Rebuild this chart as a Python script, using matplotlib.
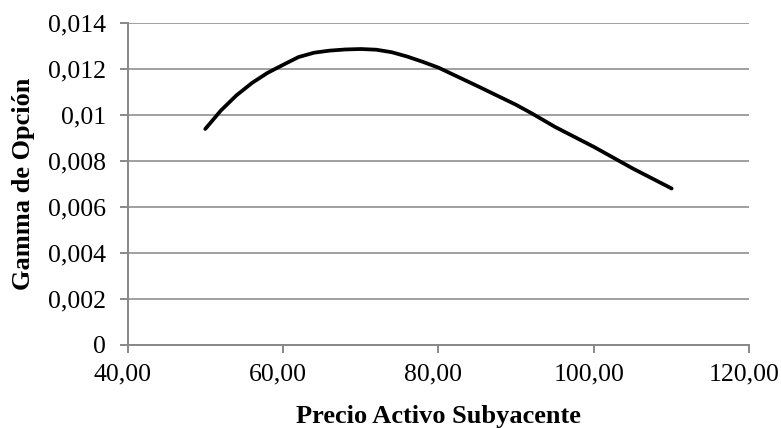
import matplotlib.pyplot as plt
from matplotlib.ticker import FuncFormatter
from matplotlib.transforms import ScaledTranslation

plt.rcParams['font.family'] = ['Liberation Serif', 'DejaVu Serif']

# Data
precio = [50, 52, 54, 56, 58, 60, 62, 64, 66, 68, 70, 72, 74, 76, 78, 80,
          85, 90, 92, 95, 100, 105, 110]
gamma = [0.00940, 0.01020, 0.01086, 0.01140, 0.01184, 0.01219, 0.01253, 0.01272,
         0.01281, 0.01286, 0.01288, 0.01285, 0.01274, 0.01255, 0.01232, 0.01207,
         0.01127, 0.01045, 0.01008, 0.00949, 0.00862, 0.00768, 0.00681]

x_ticks = [40, 60, 80, 100, 120]
y_ticks = [0, 0.002, 0.004, 0.006, 0.008, 0.010, 0.012, 0.014]

fig = plt.figure(figsize=(7.81, 4.28), dpi=100)
ax = fig.add_axes([0.1633, 0.194, 0.7962, 0.7516])

ax.plot(precio, gamma, color='black', linewidth=2.7, solid_capstyle='round', zorder=3)

ax.set_xlim(40, 120)
ax.set_ylim(0, 0.014)
ax.set_xticks(x_ticks)
ax.set_yticks(y_ticks)


def fmt_y(v, pos):
    s = f"{v:.3f}".rstrip('0').rstrip('.')
    return s.replace('.', ',')


ax.yaxis.set_major_formatter(FuncFormatter(fmt_y))
ax.xaxis.set_major_formatter(FuncFormatter(lambda v, p: f"{v:.2f}".replace('.', ',')))

ax.grid(axis='y', color='#a0a0a0', linewidth=1.4)
ax.set_axisbelow(True)
for s in ['top', 'right']:
    ax.spines[s].set_visible(False)
for s in ['left', 'bottom']:
    ax.spines[s].set_color('#888888')
    ax.spines[s].set_linewidth(1.4)

ax.tick_params(axis='both', colors='#888888', labelcolor='black', labelsize=18.5,
               length=5.5, width=1.4)
ax.tick_params(axis='y', pad=10)
ax.tick_params(axis='x', pad=8)

# Excel draws the x labels slightly left of their ticks
shift = ScaledTranslation(-5 / 100, 0, fig.dpi_scale_trans)
for lab in ax.get_xticklabels():
    lab.set_transform(lab.get_transform() + shift)

ax.set_xlabel('Precio Activo Subyacente', fontsize=19, fontweight='bold', va='baseline')
ax.set_ylabel('Gamma de Opción', fontsize=19, fontweight='bold', va='center')
ax.xaxis.set_label_coords(0.5, -0.2425)
ax.yaxis.set_label_coords(-0.1676, 0.5)

fig.savefig('out.png', dpi=100)
